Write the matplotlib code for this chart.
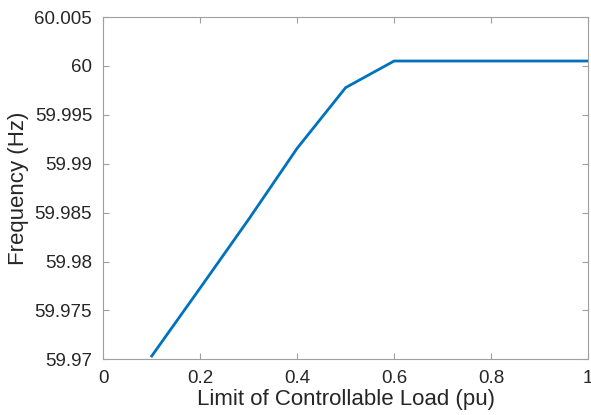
import matplotlib
matplotlib.use("Agg")
import matplotlib.pyplot as plt

# limit of controllable load (pu) vs steady frequency (Hz)
load_limit = [0.1, 0.2, 0.3, 0.4, 0.5, 0.6, 0.7, 0.8, 0.9, 1.0]
frequency = [59.97034, 59.9773, 59.98432, 59.99158, 59.99778,
             60.0005, 60.0005, 60.0005, 60.0005, 60.0005]

x_ticks = [0, 0.2, 0.4, 0.6, 0.8, 1]
x_labels = ["0", "0.2", "0.4", "0.6", "0.8", "1"]
y_ticks = [59.97, 59.975, 59.98, 59.985, 59.99, 59.995, 60, 60.005]
y_labels = ["59.97", "59.975", "59.98", "59.985", "59.99", "59.995", "60", "60.005"]

plt.rcParams['font.family'] = ['Liberation Sans', 'DejaVu Sans']

fig = plt.figure(figsize=(5.91, 4.15), dpi=100)
ax = fig.add_axes([103.3 / 591, 1 - 359.3 / 415, (588 - 103.3) / 591, (359.3 - 17) / 415])

ax.plot(load_limit, frequency, color='#0072BD', linewidth=2)

ax.set_xlim(0, 1)
ax.set_ylim(59.97, 60.005)
ax.set_xticks(x_ticks)
ax.set_xticklabels(x_labels)
ax.set_yticks(y_ticks)
ax.set_yticklabels(y_labels)

text_col = '#262626'
ax.tick_params(direction='in', length=4, width=0.8, color='#a0a0a0',
               labelsize=13.5, labelcolor=text_col, top=True, right=True)
ax.tick_params(axis='y', pad=8)
ax.tick_params(axis='x', pad=8)
for s in ax.spines.values():
    s.set_color('#a0a0a0')
    s.set_linewidth(0.8)

ax.set_xlabel("Limit of Controllable Load (pu)", fontsize=16, color=text_col, labelpad=1)
ax.set_ylabel("Frequency (Hz)", fontsize=16, color=text_col, labelpad=4)

fig.savefig("out.png", dpi=100)
